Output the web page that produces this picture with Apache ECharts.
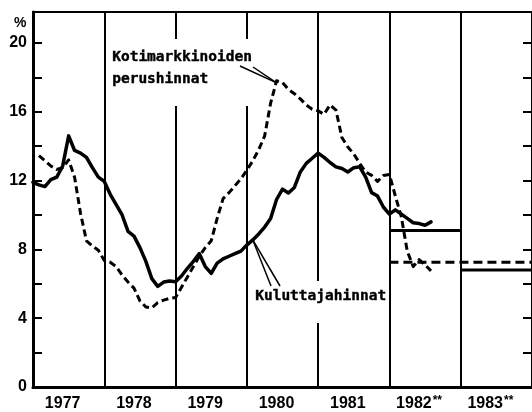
<!DOCTYPE html>
<html>
<head>
<meta charset="utf-8">
<script src="https://cdn.jsdelivr.net/npm/echarts@6/dist/echarts.min.js"></script>
<style>
html,body{margin:0;padding:0;background:#fff;}
#c{width:532px;height:412px;}
</style>
</head>
<body>
<div id="c"></div>
<script>
// ---- data ----
const years = ['1977', '1978', '1979', '1980', '1981', '1982', '1983'];
const yearNotes = ['', '', '', '', '', '**', '**'];
const startYear = 1977;
// monthly values, Jan 1977 .. Aug 1982 (%)
const consumerPrices = [
  11.9, 11.75, 11.65, 12.05, 12.2, 12.85, 14.6, 13.75, 13.6, 13.35, 12.75, 12.2,
  11.95, 11.2, 10.6, 10.0, 9.05, 8.77, 8.1, 7.3, 6.3, 5.85, 6.1, 6.16,
  6.12, 6.45, 6.9, 7.3, 7.75, 7.0, 6.6, 7.2, 7.45, 7.6, 7.75, 7.9,
  8.25, 8.55, 8.9, 9.3, 9.8, 10.9, 11.5, 11.28, 11.6, 12.5, 13.0, 13.3,
  13.6, 13.35, 13.05, 12.8, 12.7, 12.5, 12.75, 12.8, 12.2, 11.3, 11.1, 10.45,
  10.05, 10.3, 10.05, 9.8, 9.55, 9.5, 9.4, 9.6
];
const basicPrices = [
  null, 13.45, 13.15, 12.85, 12.65, 12.75, 13.2, 12.2, 10.1, 8.5, 8.2, 7.95,
  7.35, 7.25, 7.0, 6.5, 6.1, 5.75, 5.0, 4.65, 4.6, 4.9, 5.05, 5.15,
  5.2, 5.8, 6.4, 7.0, 7.6, 8.1, 8.5, 9.8, 10.95, 11.3, 11.7, 12.1,
  12.6, 13.15, 13.8, 14.6, 16.5, 17.8, 17.7, 17.3, 17.05, 16.75, 16.4, 16.15,
  16.05, 15.85, 16.4, 16.1, 14.5, 13.95, 13.55, 13.0, 12.5, 12.3, 11.95, 12.3,
  12.35, 11.1, 9.9, 7.9, 7.0, 7.4, 7.1, 6.75
];
// forecasts (annual), segment boundaries
const forecastYears = [1982, 1983, 1984];
const consumerForecast = [9.1, 6.8];
const basicForecast = [7.25, 7.25];
const labelBasic = ['Kotimarkkinoiden', 'perushinnat'];
const labelConsumer = 'Kuluttajahinnat';
const consumerAnchorMonth = 37;

// ---- build ----
const toXY = arr => arr.map((v, i) => [startYear + i / 12, v]);
function stepSeries(vals) {
  const out = [];
  vals.forEach((v, i) => {
    out.push([forecastYears[i], v]);
    out.push([forecastYears[i + 1], v]);
    out.push([forecastYears[i + 1], null]);
  });
  return out;
}
function mergeFlat(vals) {
  return [[forecastYears[0], vals[0]], [forecastYears[forecastYears.length - 1], vals[vals.length - 1]]];
}

const chart = echarts.init(document.getElementById('c'), null, {renderer: 'canvas'});
const F = 'Liberation Sans, Arial, sans-serif';
const MONO = 'DejaVu Sans Mono, monospace';

const option = {
  backgroundColor: '#ffffff',
  animation: false,
  grid: {left: 33, right: -5, top: 12, bottom: 24, show: true, borderColor: '#000', borderWidth: 2, backgroundColor: 'transparent'},
  xAxis: [
    {
      type: 'value', min: 1977, max: 1984, interval: 1,
      axisLine: {show: true, lineStyle: {color: '#000', width: 3}},
      axisTick: {show: false},
      axisLabel: {show: false},
      splitLine: {show: true, lineStyle: {color: '#000', width: 2}}
    },
    {
      type: 'category', data: years, position: 'bottom', boundaryGap: true,
      axisLine: {show: false}, axisTick: {show: false}, splitLine: {show: false},
      axisLabel: {
        margin: 8, interval: 0,
        formatter: (v, i) => '{y|' + v + '}' + (yearNotes[i] ? '{s|' + yearNotes[i] + '}' : ''),
        padding: [0, 12, 0, 0],
        rich: {
          y: {fontFamily: F, fontWeight: 'bold', fontSize: 16, lineHeight: 18, color: '#000'},
          s: {fontFamily: F, fontWeight: 'bold', fontSize: 12, lineHeight: 10, verticalAlign: 'top', color: '#000', padding: [0, 0, 0, 1]}
        }
      }
    }
  ],
  yAxis: [
    {
      type: 'value', min: 0, max: 21.8, interval: 2, position: 'left',
      axisLine: {show: true, lineStyle: {color: '#000', width: 3}},
      axisTick: {show: true, inside: true, length: 9, lineStyle: {color: '#000', width: 2}},
      axisLabel: {
        margin: 6, showMaxLabel: false, color: '#000', fontFamily: F, fontWeight: 'bold', fontSize: 16,
        formatter: v => (v % 4 === 0 ? String(v) : '')
      },
      splitLine: {show: false}
    },
    {
      type: 'value', min: 0, max: 21.8, interval: 2, position: 'right',
      axisLine: {show: false},
      axisTick: {show: true, inside: true, length: 9, lineStyle: {color: '#000', width: 2}},
      axisLabel: {show: false},
      splitLine: {show: false}
    }
  ],
  series: [
    {
      type: 'line', name: labelConsumer, xAxisIndex: 0, yAxisIndex: 0,
      data: toXY(consumerPrices), symbol: 'none', connectNulls: false,
      lineStyle: {color: '#000', width: 3.5, join: 'round', cap: 'round'}, z: 5
    },
    {
      type: 'line', name: labelBasic.join(' '), xAxisIndex: 0, yAxisIndex: 0,
      data: toXY(basicPrices), symbol: 'none',
      lineStyle: {color: '#000', width: 3, type: [7, 4], join: 'round'}, z: 5
    },
    {
      type: 'line', xAxisIndex: 0, yAxisIndex: 0,
      data: stepSeries(consumerForecast), symbol: 'none', connectNulls: false,
      lineStyle: {color: '#000', width: 3}, z: 5
    },
    {
      type: 'line', xAxisIndex: 0, yAxisIndex: 0,
      data: mergeFlat(basicForecast), symbol: 'none',
      lineStyle: {color: '#000', width: 3, type: [9, 5]}, z: 5
    }
  ]
};
chart.setOption(option);

// annotations (labels with white boxes and leader lines)
let peakIdx = 0;
basicPrices.forEach((v, i) => { if (v != null && v > basicPrices[peakIdx]) peakIdx = i; });
const peak = chart.convertToPixel({xAxisIndex: 0, yAxisIndex: 0}, [startYear + peakIdx / 12, basicPrices[peakIdx]]);
const anchor = chart.convertToPixel({xAxisIndex: 0, yAxisIndex: 0}, [startYear + consumerAnchorMonth / 12, consumerPrices[consumerAnchorMonth]]);

const txt = (t, x, y) => ({
  type: 'text', z: 101, left: x, top: y,
  style: {text: t, font: 'bold 14.5px ' + MONO, fill: '#000', stroke: '#000', lineWidth: 0.4}
});
const ln = (x1, y1, x2, y2) => ({
  type: 'line', z: 102, shape: {x1, y1, x2, y2}, style: {stroke: '#000', lineWidth: 1.5}
});

chart.setOption({
  graphic: [
    {type: 'rect', z: 100, shape: {x: 109, y: 39, width: 150, height: 67}, style: {fill: '#fff'}},
    {type: 'rect', z: 100, shape: {x: 254, y: 281, width: 134, height: 42}, style: {fill: '#fff'}},
    txt(labelBasic[0], 112, 50),
    txt(labelBasic[1], 112, 72),
    txt(labelConsumer, 255, 289),
    ln(240, 66, peak[0], peak[1] + 2),
    ln(253, 67, peak[0], peak[1] + 2),
    ln(anchor[0], anchor[1], 271, 286),
    ln(anchor[0], anchor[1], 280, 286),
    {type: 'text', z: 101, left: 14, top: 16, style: {text: '%', font: 'bold 14px ' + F, fill: '#000'}}
  ]
});
</script>
</body>
</html>
